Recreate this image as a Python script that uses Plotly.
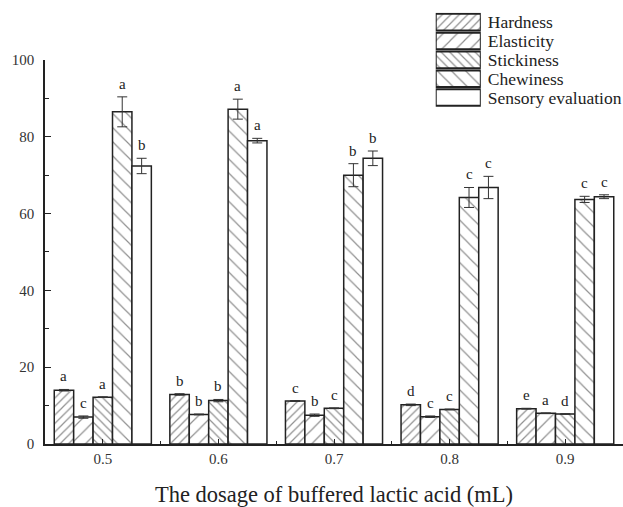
import plotly.graph_objects as go

dosage = [0.5, 0.6, 0.7, 0.8, 0.9]
dosage_labels = ["0.5", "0.6", "0.7", "0.8", "0.9"]
series_names = ["Hardness", "Elasticity", "Stickiness", "Chewiness", "Sensory evaluation"]

hardness = [14.0, 12.9, 11.2, 10.2, 9.2]
elasticity = [7.0, 7.7, 7.5, 7.1, 8.0]
stickiness = [12.2, 11.3, 9.3, 9.0, 7.8]
chewiness = [86.5, 87.2, 70.0, 64.2, 63.7]
sensory = [72.4, 79.0, 74.4, 66.8, 64.4]

hardness_err = [0.2, 0.2, 0.1, 0.2, 0.1]
elasticity_err = [0.3, 0.1, 0.3, 0.2, 0.1]
stickiness_err = [0.1, 0.3, 0.1, 0.1, 0.1]
chewiness_err = [3.9, 2.6, 3.0, 2.6, 0.8]
sensory_err = [2.0, 0.6, 1.9, 2.9, 0.5]

hardness_sig = ["a", "b", "c", "d", "e"]
elasticity_sig = ["c", "b", "b", "c", "a"]
stickiness_sig = ["a", "b", "c", "c", "d"]
chewiness_sig = ["a", "a", "b", "c", "c"]
sensory_sig = ["b", "a", "b", "c", "c"]

values = [hardness, elasticity, stickiness, chewiness, sensory]
errors = [hardness_err, elasticity_err, stickiness_err, chewiness_err, sensory_err]
sigs = [hardness_sig, elasticity_sig, stickiness_sig, chewiness_sig, sensory_sig]

patterns = [
    dict(shape="/", size=6, solidity=0.2, fgcolor="#222", bgcolor="white"),
    dict(shape="/", size=10, solidity=0.12, fgcolor="#222", bgcolor="white"),
    dict(shape="\\", size=6, solidity=0.2, fgcolor="#222", bgcolor="white"),
    dict(shape="\\", size=10, solidity=0.12, fgcolor="#222", bgcolor="white"),
    dict(shape="", fgcolor="#222", bgcolor="white"),
]

SERIF = "Liberation Serif"
BARGAP = 0.16
fig = go.Figure()

for name, v, e, p in zip(series_names, values, errors, patterns):
    fig.add_trace(go.Bar(
        x=dosage, y=v, name=name,
        marker=dict(color="white", pattern=p, line=dict(color="#222", width=1.5)),
        error_y=dict(type="data", array=e, visible=True, color="#333", thickness=1, width=5),
        showlegend=False,
    ))

# significance letters
n = len(series_names)
bw = 0.1 * (1 - BARGAP) / n
for i, (v, e, s) in enumerate(zip(values, errors, sigs)):
    for xv, yv, ev, lab in zip(dosage, v, e, s):
        fig.add_annotation(
            x=xv + (i - (n - 1) / 2) * bw, y=yv + ev, text=lab,
            xref="x", yref="y", showarrow=False, yanchor="bottom", yshift=3,
            font=dict(family=SERIF, size=15, color="#222"),
        )

# legend swatches drawn as bars on an inset axis
fig.add_trace(go.Bar(
    y=series_names, x=[1] * n, orientation="h",
    marker=dict(color="white", pattern=dict(
        shape=[p["shape"] for p in patterns],
        size=[p.get("size", 8) for p in patterns],
        solidity=[p.get("solidity", 0.1) for p in patterns],
        fgcolor="#222", bgcolor="white"),
        line=dict(color="#222", width=2)),
    xaxis="x2", yaxis="y2", showlegend=False, width=0.88, hoverinfo="skip",
))

fig.update_layout(
    width=623, height=507,
    margin=dict(l=45, r=0, t=10, b=63),
    plot_bgcolor="white", paper_bgcolor="white",
    barmode="group", bargap=BARGAP, bargroupgap=0,
    font=dict(family=SERIF, color="#222"),
    xaxis=dict(
        range=[0.45, 0.95], tickvals=dosage, ticktext=dosage_labels, automargin=False,
        ticks="inside", ticklen=5, tickcolor="#222",
        minor=dict(tickvals=[0.55, 0.65, 0.75, 0.85], ticks="inside", ticklen=3, tickcolor="#222"),
        showline=True, linecolor="#222", linewidth=1.5, showgrid=False, zeroline=False,
        tickfont=dict(family=SERIF, size=15, color="#333"),
        title=dict(text="The dosage of buffered lactic acid (mL)", font=dict(family=SERIF, size=22.5, color="#222"), standoff=20),
    ),
    yaxis=dict(
        domain=[0, 0.8848], range=[0, 100], dtick=20, automargin=False,
        ticks="inside", ticklen=6, tickcolor="#222", ticklabelstandoff=6,
        minor=dict(dtick=10, ticks="inside", ticklen=4, tickcolor="#222"),
        showline=True, linecolor="#222", linewidth=1.5, showgrid=False, zeroline=False,
        tickfont=dict(family=SERIF, size=15, color="#333"),
    ),
    xaxis2=dict(domain=[0.676, 0.754], range=[0, 1], visible=False, anchor="y2", automargin=False),
    yaxis2=dict(
        domain=[0.7765, 0.9938], anchor="x2", side="right", automargin=False,
        autorange="reversed", showgrid=False, zeroline=False, showline=False,
        tickmode="array", tickvals=series_names, ticktext=series_names,
        ticks="", ticklabelstandoff=6,
        tickfont=dict(family=SERIF, size=17.5, color="#222"),
    ),
)

fig.write_html("out.html", config={"displayModeBar": False},
               post_script="document.body.style.margin='0';")
